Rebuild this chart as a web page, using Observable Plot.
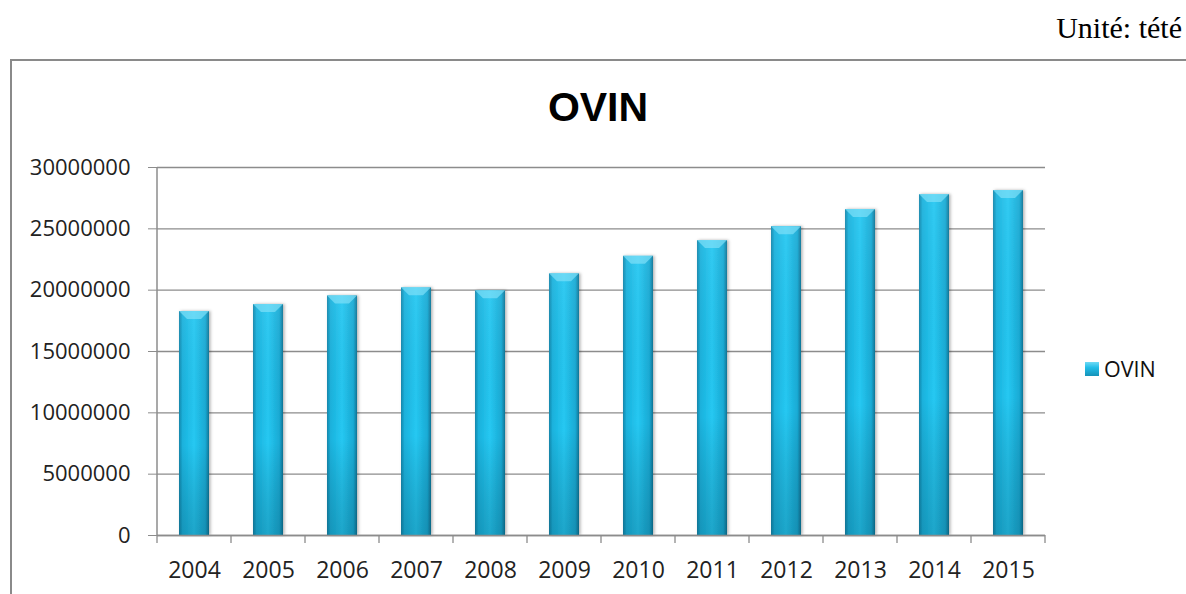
<!DOCTYPE html>
<html>
<head>
<meta charset="utf-8">
<script src="https://cdn.jsdelivr.net/npm/d3@7"></script>
<script src="https://cdn.jsdelivr.net/npm/@observablehq/plot@0.6"></script>
<style>
  html, body { margin: 0; padding: 0; background: #fff; width: 1186px; height: 594px; overflow: hidden; position: relative; }
  #unit { position: absolute; right: 4px; top: 10px; font-family: "Liberation Serif", serif; font-size: 30px; line-height: 36px; color: #000; }
  #frame { position: absolute; left: 10px; top: 59px; width: 1200px; height: 600px; border-left: 2px solid #8a8a8a; border-top: 2px solid #8a8a8a; }
  #title { position: absolute; left: 0; width: 1196px; top: 83px; line-height: 48px; text-align: center; font-family: "Liberation Sans", Arial, sans-serif; font-weight: bold; font-size: 41px; color: #000; }
  #chart { position: absolute; left: 0; top: 150px; }
  #legend { position: absolute; left: 1085px; top: 355px; font-family: "Open Sans", sans-serif; font-size: 21.5px; line-height: 28px; color: #111; display: flex; align-items: center; }
  #legend .sw { width: 14px; height: 14px; background: linear-gradient(180deg, #6fdaf5 0%, #22bde8 40%, #1592b8 100%); margin-right: 5px; }
</style>
</head>
<body>
<div id="unit">Unité: tété</div>
<div id="frame"></div>
<div id="title">OVIN</div>
<div id="chart"></div>
<div id="legend"><div class="sw"></div><span>OVIN</span></div>
<script>
const years = ["2004","2005","2006","2007","2008","2009","2010","2011","2012","2013","2014","2015"];
const ovin = [18260000, 18830000, 19530000, 20190000, 19950000, 21330000, 22760000, 24040000, 25180000, 26570000, 27790000, 28120000];
const yTicks = [0, 5000000, 10000000, 15000000, 20000000, 25000000, 30000000];

const data = years.map((y, i) => ({year: y, value: ovin[i]}));

const plot = Plot.plot({
  width: 1186,
  height: 444,
  marginLeft: 157,
  marginRight: 141,
  marginTop: 17,
  marginBottom: 59,
  style: { fontFamily: "'Open Sans', sans-serif", fontSize: "22px", color: "#222", background: "transparent" },
  x: { domain: years, paddingInner: 0.595, paddingOuter: 0.2975, label: null },
  y: { domain: [0, 30000000], label: null },
  marks: [
    () => {
      const ns = "http://www.w3.org/2000/svg";
      const defs = document.createElementNS(ns, "defs");
      defs.innerHTML = `
        <linearGradient id="gh" x1="0" x2="1" y1="0" y2="0">
          <stop offset="0" stop-color="#1386ab"/>
          <stop offset="0.12" stop-color="#1ab2dd"/>
          <stop offset="0.5" stop-color="#26c8f2"/>
          <stop offset="0.88" stop-color="#19aad4"/>
          <stop offset="1" stop-color="#0e7496"/>
        </linearGradient>
        <linearGradient id="gv" x1="0" x2="0" y1="0" y2="1">
          <stop offset="0" stop-color="#ffffff" stop-opacity="0.06"/>
          <stop offset="0.6" stop-color="#000000" stop-opacity="0.0"/>
          <stop offset="1" stop-color="#003040" stop-opacity="0.22"/>
        </linearGradient>
        <filter id="sh" x="-20%" y="-5%" width="140%" height="110%">
          <feDropShadow dx="1.5" dy="0" stdDeviation="1.5" flood-color="#000" flood-opacity="0.3"/>
        </filter>`;
      return defs;
    },
    Plot.gridY(yTicks, { stroke: "#8c8c8c", strokeOpacity: 1, strokeWidth: 1.3 }),
    Plot.barY(data, { x: "year", y: "value", fill: "url(#gh)", render: (i, s, v, d, c, next) => { const g = next(i, s, v, d, c); g.setAttribute("filter", "url(#sh)"); return g; } }),
    Plot.barY(data, { x: "year", y: "value", fill: "url(#gv)" }),
    Plot.ruleY([0], { stroke: "#8c8c8c", strokeWidth: 1.5 }),
    Plot.axisY(yTicks, { tickFormat: d3.format("d"), tickSize: 9, tickPadding: 18, stroke: "#8c8c8c", fontSize: 22, fill: "#222" }),
    Plot.axisX({ tickSize: 0, tickPadding: 26, fontSize: 23, fill: "#222" })
  ]
});

document.getElementById("chart").appendChild(plot);

// left axis line and category boundary ticks, from the plot's own scales
const xs = plot.scale("x");
const ys = plot.scale("y");
const svg = d3.select(plot);
const step = xs.step;
const gap = (step - xs.bandwidth) / 2;
const y0 = ys.apply(0);
const yTop = ys.apply(30000000);
const xLeft = xs.apply(years[0]) - gap;
svg.append("line").attr("x1", xLeft).attr("x2", xLeft).attr("y1", yTop).attr("y2", y0)
  .attr("stroke", "#8c8c8c").attr("stroke-width", 1.5);
const bounds = years.map(y => xs.apply(y) - gap).concat([xs.apply(years[years.length - 1]) + xs.bandwidth + gap]);
svg.append("g").selectAll("line").data(bounds).join("line")
  .attr("x1", d => d).attr("x2", d => d).attr("y1", y0).attr("y2", y0 + 8)
  .attr("stroke", "#8c8c8c").attr("stroke-width", 1.3);
// bevel highlight on top of each bar
svg.append("g").selectAll("path").data(data).join("path")
  .attr("d", d => {
    const x = xs.apply(d.year), w = xs.bandwidth, t = ys.apply(d.value);
    return `M${x},${t} L${x + w},${t} L${x + w - 8},${t + 8} L${x + 8},${t + 8} Z`;
  })
  .attr("fill", "#7fe0f8").attr("opacity", 0.7);
</script>
</body>
</html>
